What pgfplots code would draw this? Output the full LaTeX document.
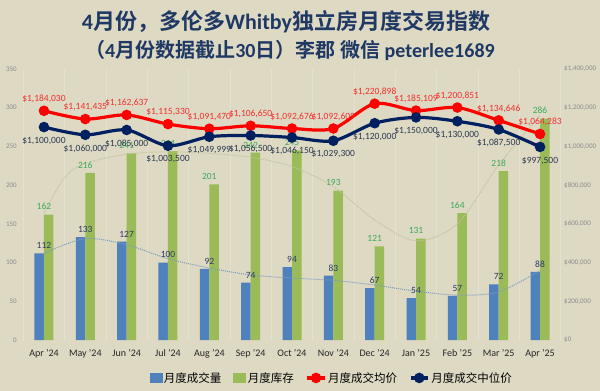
\documentclass[border=0pt]{standalone}
\usepackage{pgfplots}
\pgfplotsset{compat=1.18}
\usepackage{fontspec}
\setmainfont{Carlito}
\newfontfamily\cjk{Noto Sans CJK SC}[BoldFont={Noto Sans CJK SC Bold}]
\definecolor{bgc}{HTML}{DDD9C3}
\definecolor{barblue}{HTML}{4F81BD}
\definecolor{bargreen}{HTML}{9BBB59}
\definecolor{navy}{HTML}{002060}
\definecolor{titlec}{HTML}{1F3864}
\definecolor{volc}{HTML}{2E3B66}
\definecolor{invc}{HTML}{3DAA5A}
\definecolor{navylab}{HTML}{2B3850}
\definecolor{redlab}{HTML}{F03030}
\definecolor{gridc}{HTML}{E4E1CF}
\definecolor{trendinv}{HTML}{C4C29C}
\definecolor{trendvol}{HTML}{7E9CC0}
\definecolor{tickc}{HTML}{8C8C8C}
\newcommand{\lat}[1]{{\rmfamily\bfseries #1}}
\begin{document}
\begin{tikzpicture}[x=1pt,y=1pt]
\fill[bgc] (0,0) rectangle (600,391);
\node[text=titlec, font=\cjk\bfseries\fontsize{22}{26}\selectfont] at (286,369) {\lat{4}月份，多伦多\lat{Whitby}独立房月度交易指数};
\node[text=titlec, font=\cjk\bfseries\fontsize{20}{24}\selectfont] at (290,341) {（\lat{4}月份数据截止\lat{30}日）李郡 微信 \lat{peterlee1689}};

\begin{axis}[
  at={(23.3pt,51pt)}, anchor=south west, scale only axis,
  width=537.4pt, height=271pt,
  xmin=-0.5, xmax=12.5, ymin=0, ymax=350,
  axis line style={draw=none}, major tick length=0pt, minor tick length=0pt,
  ytick={0,50,...,350},
  /pgf/number format/assume math mode=true,
  yticklabel style={font=\fontsize{7}{8}\selectfont, text=tickc, xshift=-3pt},
  xtick={0,...,12},
  xticklabels={Apr '24,May '24,Jun '24,Jul '24,Aug '24,Sep '24,Oct '24,Nov '24,Dec '24,Jan '25,Feb '25,Mar '25,Apr '25},
  xticklabel style={font=\fontsize{10}{12}\selectfont, text=black!85, yshift=-6pt},
  minor xtick={-0.5,0.5,...,12.5},
  xminorgrids, minor grid style={draw=gridc, line width=0.8pt},
  clip=false,
]
\addplot[ybar, bar width=9.5pt, bar shift=-4.75pt, fill=barblue, draw=none,
  nodes near coords, nodes near coords style={font=\fontsize{9.5}{10}\selectfont, text=volc, yshift=1pt}]
  coordinates {(0,112)(1,133)(2,127)(3,100)(4,92)(5,74)(6,94)(7,83)(8,67)(9,54)(10,57)(11,72)(12,88)};
\addplot[ybar, bar width=9.5pt, bar shift=4.75pt, fill=bargreen, draw=none,
  nodes near coords, nodes near coords style={font=\fontsize{9.5}{10}\selectfont, text=invc, yshift=1pt}]
  coordinates {(0,162)(1,216)(2,241)(3,244)(4,201)(5,242)(6,245)(7,193)(8,121)(9,131)(10,164)(11,218)(12,286)};
\addplot[smooth, densely dotted, color=trendinv, line width=1pt]
  coordinates {(0,164)(0.5,210)(1,228)(2,240)(3,243)(4,241)(5,236)(6,224)(7,198)(8,155)(9,128)(10,150)(11,226)(12,290)};
\addplot[smooth, densely dotted, color=trendvol, line width=1pt]
  coordinates {(0,112)(1,131)(2,123)(3,105)(4,93)(5,84)(6,80)(7,77)(8,71)(9,63)(10,58)(11,62)(12,90)};
\end{axis}

\begin{axis}[
  at={(23.3pt,51pt)}, anchor=south west, scale only axis,
  width=537.4pt, height=271pt,
  xmin=-0.5, xmax=12.5, ymin=0, ymax=1400000,
  axis y line*=right, axis x line=none,
  axis line style={draw=none}, major tick length=0pt,
  ytick={0,200000,400000,600000,800000,1000000,1200000,1400000},
  yticklabels={\$0,{\$200,000},{\$400,000},{\$600,000},{\$800,000},{\$1,000,000},{\$1,200,000},{\$1,400,000}},
  yticklabel style={font=\fontsize{7}{8}\selectfont, text=tickc},
  scaled y ticks=false, clip=false,
  legend style={at={(0.574,-0.14)}, anchor=center, draw=none, fill=none,
    font=\cjk\fontsize{11.5}{13}\selectfont, legend columns=4,
    /tikz/every even column/.append style={column sep=10pt}},
]
\addlegendimage{legend image code/.code={\fill[barblue] (0pt,-4.5pt) rectangle (12pt,4.5pt);}}
\addlegendentry{月度成交量}
\addlegendimage{legend image code/.code={\fill[bargreen] (0pt,-4.5pt) rectangle (12pt,4.5pt);}}
\addlegendentry{月度库存}
\addplot[color=red, line width=3.2pt, smooth, mark=*, mark size=3.6pt,
  point meta=explicit symbolic, nodes near coords,
  nodes near coords style={font=\fontsize{9.5}{10}\selectfont, text=redlab, anchor=south, yshift=3pt}]
  coordinates {(0,1184030)[\$1,184,030] (1,1141435)[\$1,141,435] (2,1162637)[\$1,162,637] (3,1115330)[\$1,115,330] (4,1091470)[\$1,091,470] (5,1106650)[\$1,106,650] (6,1092676)[\$1,092,676] (7,1092609)[\$1,092,609] (8,1220898)[\$1,220,898] (9,1185109)[\$1,185,109] (10,1200851)[\$1,200,851] (11,1134646)[\$1,134,646] (12,1064283)[\$1,064,283]};
\addlegendentry{月度成交均价}
\addplot[color=navy, line width=3.2pt, smooth, mark=*, mark size=3.6pt,
  point meta=explicit symbolic, nodes near coords,
  nodes near coords style={font=\fontsize{9.5}{10}\selectfont, text=navylab, anchor=north, yshift=-5pt}]
  coordinates {(0,1100000)[\$1,100,000] (1,1060000)[\$1,060,000] (2,1085000)[\$1,085,000] (3,1003500)[\$1,003,500] (4,1049999)[\$1,049,999] (5,1056500)[\$1,056,500] (6,1046150)[\$1,046,150] (7,1029300)[\$1,029,300] (8,1120000)[\$1,120,000] (9,1150000)[\$1,150,000] (10,1130000)[\$1,130,000] (11,1087500)[\$1,087,500] (12,997500)[\$997,500]};
\addlegendentry{月度成交中位价}
\end{axis}
\pgfresetboundingbox
\useasboundingbox (0,0) rectangle (600,391);
\end{tikzpicture}
\end{document}
